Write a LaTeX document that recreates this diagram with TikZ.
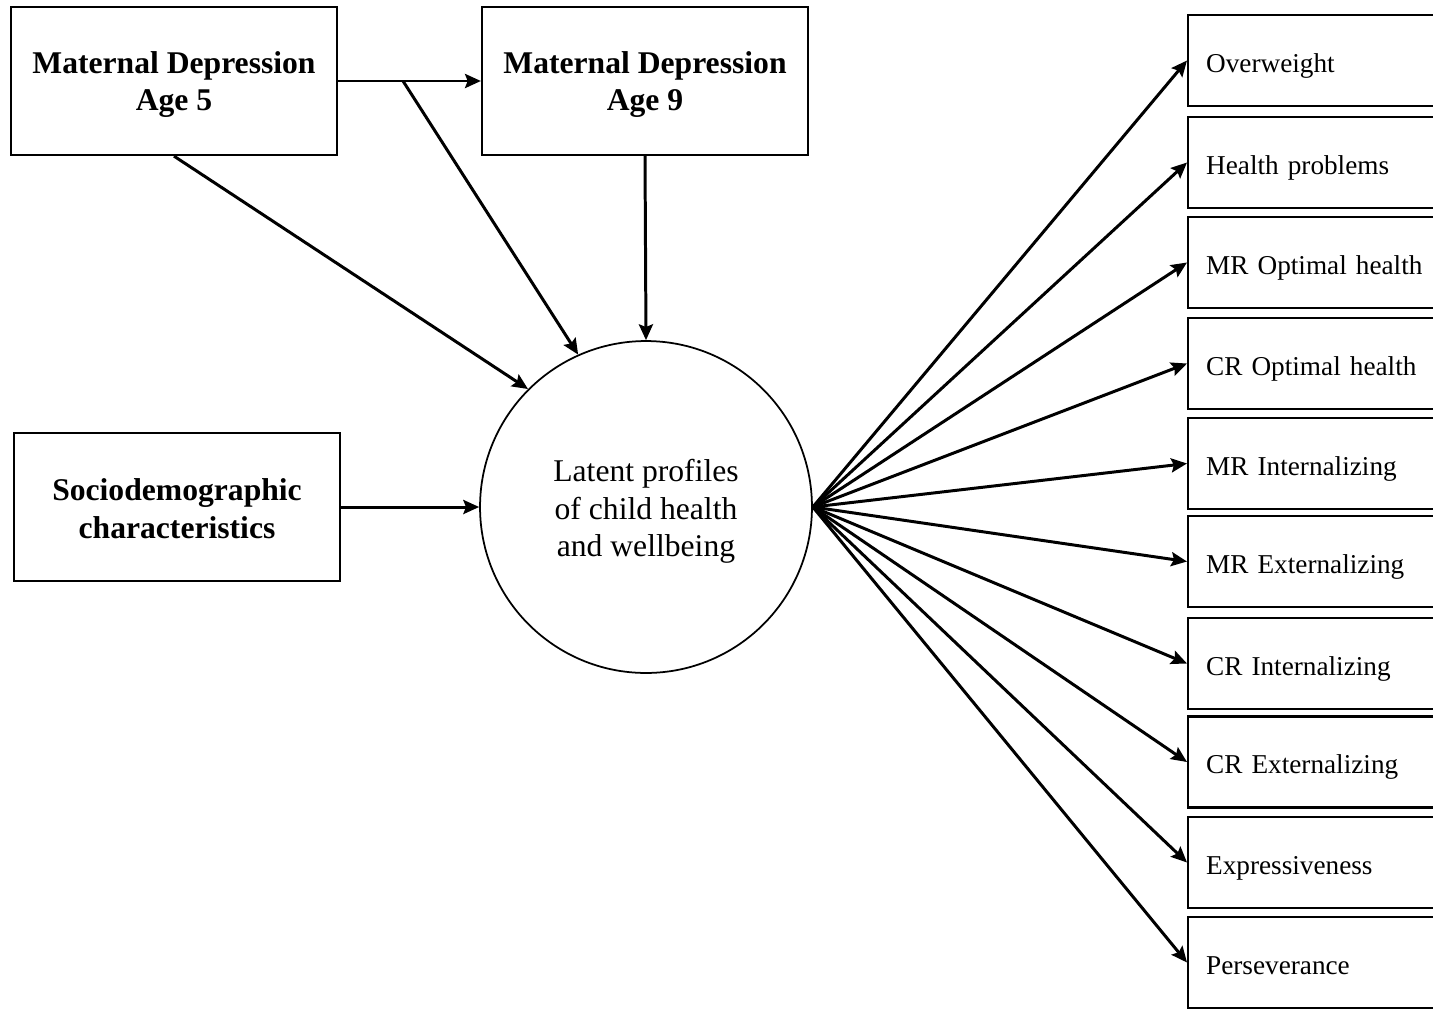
\documentclass[tikz,border=0pt]{standalone}
\usepackage{fontspec}
\setmainfont{Liberation Serif}
\usetikzlibrary{arrows.meta}
\begin{document}
\begin{tikzpicture}[x=0.02cm, y=-0.02cm,
    box/.style={draw, line width=1.3pt, minimum width=6.52cm, minimum height=2.96cm, align=center, font=\fontsize{18}{21.6}\selectfont\bfseries},
    outbox/.style={draw, line width=1.3pt, anchor=west, minimum height=1.82cm, inner xsep=0.36cm, text width=4.9cm, text height=15.5pt, text depth=2.3pt, align=left, font=\fontsize{15.5}{18}\selectfont},
    arr/.style={-{Stealth[length=9pt,width=8pt,inset=1.5pt]}, line width=1.7pt}]
\useasboundingbox (0,0) rectangle (1433,1008);

\node[box] (md5) at (174,81) {\rule{0pt}{16.5pt}Maternal Depression\\Age 5};
\node[box] (md9) at (645,81) {\rule{0pt}{16.5pt}Maternal Depression\\Age 9};
\node[box] (socio) at (177,507) {\rule{0pt}{14.5pt}Sociodemographic\\characteristics};
\node[draw, circle, line width=1pt, minimum size=6.64cm, align=center, font=\fontsize{18}{21.4}\selectfont] (lp) at (646,507) {\rule{0pt}{17.9pt}Latent profiles\\of child health\\and wellbeing};

\draw[arr](md5.east)--(md9.west);
\coordinate (split) at (403,81);
\draw[arr](split)--(lp.114);
\draw[arr](md5.south)--(lp.135);
\draw[arr](md9.south)--(lp.north);
\draw[arr](socio.east)--(lp.west);

\foreach \y/\t [count=\i] in {60.5/Overweight,162.5/Health problems,262.5/MR Optimal health,363.5/CR Optimal health,463.5/MR Internalizing,561.5/MR Externalizing,663.5/CR Internalizing,762/CR Externalizing,862.5/Expressiveness,962.5/Perseverance}
{
    \node[outbox] (o\i) at (1187,\y) {\t};
    \draw[arr](lp.east)--(o\i.west);
}
\end{tikzpicture}
\end{document}
